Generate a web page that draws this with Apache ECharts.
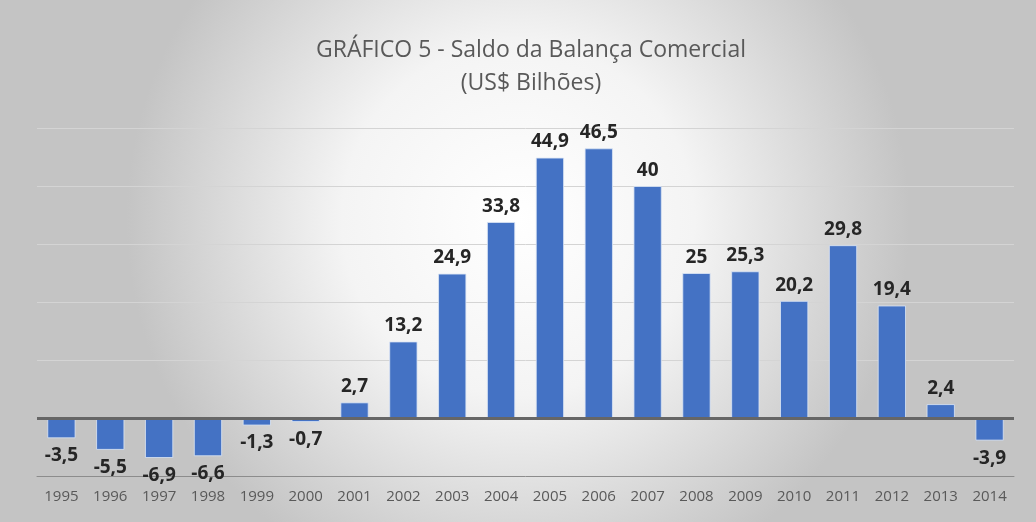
<!DOCTYPE html>
<html>
<head>
<meta charset="utf-8">
<script src="https://cdn.jsdelivr.net/npm/echarts@6/dist/echarts.min.js"></script>
<style>
html, body { margin: 0; padding: 0; }
#saldoChart { width: 1036px; height: 522px; }
</style>
</head>
<body>
<div id="saldoChart"></div>
<script>
var anos = ['1995', '1996', '1997', '1998', '1999', '2000', '2001', '2002', '2003', '2004',
            '2005', '2006', '2007', '2008', '2009', '2010', '2011', '2012', '2013', '2014'];
var saldo = [-3.5, -5.5, -6.9, -6.6, -1.3, -0.7, 2.7, 13.2, 24.9, 33.8,
             44.9, 46.5, 40, 25, 25.3, 20.2, 29.8, 19.4, 2.4, -3.9];

var barData = saldo.map(function (v) {
    return {
        value: v,
        label: v < 0 ? { position: 'bottom', distance: 8 } : { position: 'top', distance: 6 }
    };
});

var saldoChartOption = {
    backgroundColor: {
        type: 'radial', x: 0.5, y: 0.42, r: 0.75,
        colorStops: [
            { offset: 0, color: '#ffffff' },
            { offset: 0.45, color: '#f4f4f4' },
            { offset: 1, color: '#c4c4c4' }
        ]
    },
    title: {
        text: 'GRÁFICO 5 - Saldo da Balança Comercial\n(US$ Bilhões)',
        left: 526,
        top: 29,
        textAlign: 'center',
        textStyle: {
            fontFamily: 'Open Sans',
            fontWeight: 'normal',
            fontSize: 23,
            lineHeight: 33,
            color: '#595959'
        }
    },
    grid: { left: 37, right: 22, top: 128, bottom: 46 },
    xAxis: {
        type: 'category',
        data: anos,
        axisLine: { onZero: false, lineStyle: { color: '#8c8c8c', width: 1 } },
        axisTick: { show: false },
        axisLabel: {
            fontFamily: 'Open Sans',
            fontSize: 15,
            color: '#595959',
            margin: 13
        }
    },
    yAxis: {
        type: 'value',
        min: -10, max: 50, interval: 10,
        axisLabel: { show: false },
        axisLine: { show: false },
        axisTick: { show: false },
        splitLine: { lineStyle: { color: '#d4d4d4', width: 1 } }
    },
    series: [
        {
            type: 'bar',
            data: barData,
            barCategoryGap: '42%',
            itemStyle: {
                color: '#4472c4',
                borderColor: 'rgba(220,230,245,0.8)',
                borderWidth: 1
            },
            label: {
                show: true,
                fontFamily: 'Open Sans',
                fontWeight: 'bold',
                fontSize: 19,
                color: '#262626',
                formatter: function (p) {
                    return String(p.value).replace('.', ',');
                }
            },
            markLine: {
                silent: true,
                symbol: 'none',
                label: { show: false },
                lineStyle: { color: '#666666', width: 3, type: 'solid' },
                data: [{ yAxis: 0 }]
            }
        }
    ]
};

var dom = document.getElementById('saldoChart');
var saldoChart = echarts.init(dom);
saldoChart.setOption(saldoChartOption);

window.onresize = saldoChart.resize;
</script>
</body>
</html>
